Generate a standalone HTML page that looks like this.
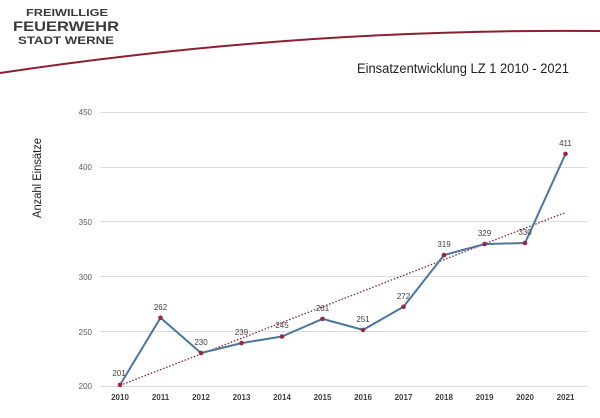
<!DOCTYPE html>
<html><head><meta charset="utf-8"><style>
html,body{margin:0;padding:0;background:#fff;}
svg{display:block;}
</style></head><body>
<svg width="600" height="418" viewBox="0 0 600 418" xmlns="http://www.w3.org/2000/svg">
<rect width="600" height="418" fill="#fff"/>
<!-- header -->
<path d="M0,73 Q300,28 600,31" fill="none" stroke="#8e1f30" stroke-width="2"/>
<g font-family="Liberation Sans, sans-serif" font-weight="bold" fill="#3a3a3a" text-anchor="middle">
<text x="67" y="16" font-size="10" textLength="82" lengthAdjust="spacingAndGlyphs">FREIWILLIGE</text>
<text x="66" y="31" font-size="14" textLength="106" lengthAdjust="spacingAndGlyphs">FEUERWEHR</text>
<text x="66" y="44" font-size="11" textLength="96" lengthAdjust="spacingAndGlyphs">STADT WERNE</text>
</g>
<text x="357" y="73" font-family="Liberation Sans, sans-serif" font-size="13.5" fill="#222" textLength="212" lengthAdjust="spacingAndGlyphs">Einsatzentwicklung  LZ 1 2010 - 2021</text>
<text transform="translate(41,178) rotate(-90)" text-anchor="middle" font-family="Liberation Sans, sans-serif" font-size="11.5" fill="#222" textLength="80" lengthAdjust="spacingAndGlyphs">Anzahl Einsätze</text>
<!-- grid -->
<g stroke="#dcdcdc" stroke-width="1">
<line x1="100" y1="112.5" x2="587" y2="112.5"/>
<line x1="100" y1="167.5" x2="587" y2="167.5"/>
<line x1="100" y1="221.5" x2="587" y2="221.5"/>
<line x1="100" y1="276.5" x2="587" y2="276.5"/>
<line x1="100" y1="331.5" x2="587" y2="331.5"/>
<line x1="100" y1="386.5" x2="587" y2="386.5"/>
</g>
<g font-family="Liberation Sans, sans-serif" font-size="8" fill="#595959" text-anchor="end">
<text x="92" y="115">450</text>
<text x="92" y="170">400</text>
<text x="92" y="225">350</text>
<text x="92" y="280">300</text>
<text x="92" y="335">250</text>
<text x="92" y="389">200</text>
</g>
<g font-family="Liberation Sans, sans-serif" font-size="8" font-weight="bold" fill="#404040" text-anchor="middle">
<text x="120" y="400">2010</text>
<text x="160.5" y="400">2011</text>
<text x="201" y="400">2012</text>
<text x="241.5" y="400">2013</text>
<text x="282" y="400">2014</text>
<text x="322.5" y="400">2015</text>
<text x="363" y="400">2016</text>
<text x="403.5" y="400">2017</text>
<text x="444" y="400">2018</text>
<text x="484.5" y="400">2019</text>
<text x="525" y="400">2020</text>
<text x="565.5" y="400">2021</text>
</g>
<!-- trend -->
<line x1="120" y1="385.4" x2="565.5" y2="212.5" stroke="#8e1f30" stroke-width="1.3" stroke-dasharray="1.5,1.8"/>
<!-- series -->
<polyline fill="none" stroke="#4a76a0" stroke-width="2" stroke-linejoin="round" points="120,384.9 160.5,317.8 201,353 241.5,343.1 282,336.5 322.5,318.9 363,329.9 403.5,306.8 444,255.1 484.5,244.1 525,243 565.5,153.9"/>
<g fill="#9b2345">
<circle cx="120" cy="384.9" r="2.3"/>
<circle cx="160.5" cy="317.8" r="2.3"/>
<circle cx="201" cy="353" r="2.3"/>
<circle cx="241.5" cy="343.1" r="2.3"/>
<circle cx="282" cy="336.5" r="2.3"/>
<circle cx="322.5" cy="318.9" r="2.3"/>
<circle cx="363" cy="329.9" r="2.3"/>
<circle cx="403.5" cy="306.8" r="2.3"/>
<circle cx="444" cy="255.1" r="2.3"/>
<circle cx="484.5" cy="244.1" r="2.3"/>
<circle cx="525" cy="243" r="2.3"/>
<circle cx="565.5" cy="153.9" r="2.3"/>
</g>
<g font-family="Liberation Sans, sans-serif" font-size="8" fill="#404040" text-anchor="middle">
<text x="119" y="376">201</text>
<text x="160.5" y="310">262</text>
<text x="201" y="345">230</text>
<text x="241.5" y="335">239</text>
<text x="282" y="328">245</text>
<text x="322.5" y="311">261</text>
<text x="363" y="322">251</text>
<text x="403.5" y="299">272</text>
<text x="444" y="247">319</text>
<text x="484.5" y="236">329</text>
<text x="525" y="235">330</text>
<text x="565.5" y="146">411</text>
</g>
</svg>
</body></html>
